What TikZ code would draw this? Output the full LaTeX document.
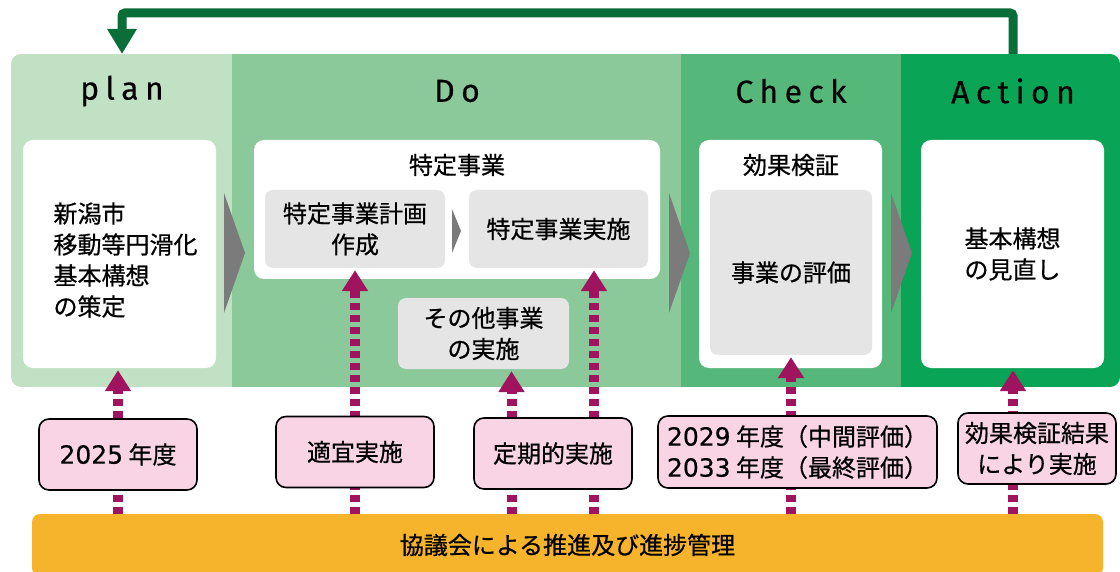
\documentclass[tikz,border=0pt]{standalone}
\usepackage{fontspec}
\setmainfont{Noto Sans CJK JP}[FakeBold=0.6]
\newfontfamily\headfont[LetterSpace=20, FakeBold=0.3]{Fira Sans}
\newfontfamily\numfont[FakeBold=0.4]{DejaVu Sans}
\newcommand\yr[1]{{\numfont\fontsize{25}{31}\selectfont #1}}
\usetikzlibrary{arrows.meta, calc}

\definecolor{planbg}{HTML}{C1E1C5}
\definecolor{dobg}{HTML}{8BC99A}
\definecolor{checkbg}{HTML}{55B77A}
\definecolor{actbg}{HTML}{0AA456}
\definecolor{loopgreen}{HTML}{0A6E38}
\definecolor{chevgray}{HTML}{7B7B7B}
\definecolor{boxgray}{HTML}{E5E5E6}
\definecolor{dotmag}{HTML}{A0135E}
\definecolor{pinkfill}{HTML}{F8D4E5}
\definecolor{barorange}{HTML}{F6B42C}

\tikzset{
  colhead/.style={font=\headfont\fontsize{32}{32}\selectfont},
  jp/.style={font=\fontsize{24}{31}\selectfont},
  whitebox/.style={fill=white, rounded corners=10pt, inner sep=0pt},
  graybox/.style={jp, fill=boxgray, rounded corners=8pt, inner sep=0pt, align=center},
  pinkbox/.style={jp, draw=black, line width=1.6pt, fill=pinkfill, rounded corners=10pt,
    minimum width=158pt, minimum height=71pt, inner sep=0pt, align=center},
  dotup/.style={dotmag, line width=10pt, dash pattern=on 7pt off 5pt,
    -{Triangle[width=25pt, length=21pt]}, shorten >=2pt},
  loop/.style={loopgreen, line width=9pt, rounded corners=3pt,
    -{Triangle[width=28pt, length=25pt]}},
  chev/.style={fill=chevgray}
}

\begin{document}
\begin{tikzpicture}[x=1pt, y=-1pt]
  \useasboundingbox (0,0) rectangle (1120,572);

  % PDCA panel
  \begin{scope}
    \clip[rounded corners=10pt] (11,54) rectangle (1120,387);
    \fill[planbg] (11,54) rectangle (232,387);
    \fill[dobg] (232,54) rectangle (681,387);
    \fill[checkbg] (681,54) rectangle (901,387);
    \fill[actbg] (901,54) rectangle (1120,387);
  \end{scope}
  \coordinate (ptop) at (0,54);

  \node[colhead] (hplan) at (122,91) {plan};
  \node[colhead] (hdo) at (457,91) {Do};
  \node[colhead] (hcheck) at (791,91) {Check};
  \node[colhead] (hact) at (1013,91) {Action};

  % white boxes
  \node[whitebox, minimum width=193pt, minimum height=228pt] (planbox) at (119.5,254) {};
  \node[jp, anchor=west, align=left] (plantext) at (50,260) {新潟市\\移動等円滑化\\基本構想\\の策定};
  \node[whitebox, minimum width=406pt, minimum height=139pt] (dobox) at (457,209.5) {};
  \node[jp] (dotitle) at (457,165) {特定事業};
  \node[graybox, minimum width=180pt, minimum height=78pt] (spplan) at (355,229) {特定事業計画\\作成};
  \node[graybox, minimum width=179pt, minimum height=78pt] (spdo) at (558.5,229) {特定事業実施};
  \node[graybox, minimum width=171pt, minimum height=71pt] (otherbox) at (483.5,333.5) {その他事業\\の実施};
  \node[whitebox, minimum width=183pt, minimum height=228pt] (chkbox) at (790.5,254) {};
  \node[jp] (chktitle) at (791,165) {効果検証};
  \node[graybox, minimum width=162pt, minimum height=165pt] (evalbox) at (791,272.5) {事業の評価};
  \node[whitebox, jp, align=center, minimum width=183pt, minimum height=228pt] (actbox) at (1012.5,254) {基本構想\\の見直し};

  % chevrons
  \foreach \x in {224,669,891}
    \fill[chev] (\x,193) -- ++(21,60) -- ++(-21,60) -- cycle;
  \fill[chev] (452,209) -- (461,231) -- (452,253) -- cycle;

  % bottom bar
  \node[jp, fill=barorange, rounded corners=8pt, minimum width=1071pt, minimum height=62pt,
    inner sep=0pt] (bar) at (567.5,545) {協議会による推進及び進捗管理};

  % dotted arrows
  \foreach \t/\dx in {planbox/-1.5, spplan/0, otherbox/28, spdo/35.5, evalbox/0, actbox/0.5}
    \draw[dotup] ($(\t.south |- bar.north)+(\dx,0)$) -- ($(\t.south)+(\dx,0)$);

  % labels
  \node[pinkbox] (y2025) at (118,454.5) {\yr{2025} 年度};
  \node[pinkbox] (tekigi) at (355,452) {適宜実施};
  \node[pinkbox] (teiki) at (553,453.5) {定期的実施};
  \node[pinkbox, minimum width=279pt, minimum height=72pt] (y2029) at (797.5,452) {\yr{2029} 年度（中間評価）\\\yr{2033} 年度（最終評価）};
  \node[pinkbox] (kouka) at (1037,448.5) {効果検証結果\\により実施};

  % feedback loop
  \draw[loop] (hact |- ptop) -- ++(0,-41) -| (hplan |- ptop);
\end{tikzpicture}
\end{document}
